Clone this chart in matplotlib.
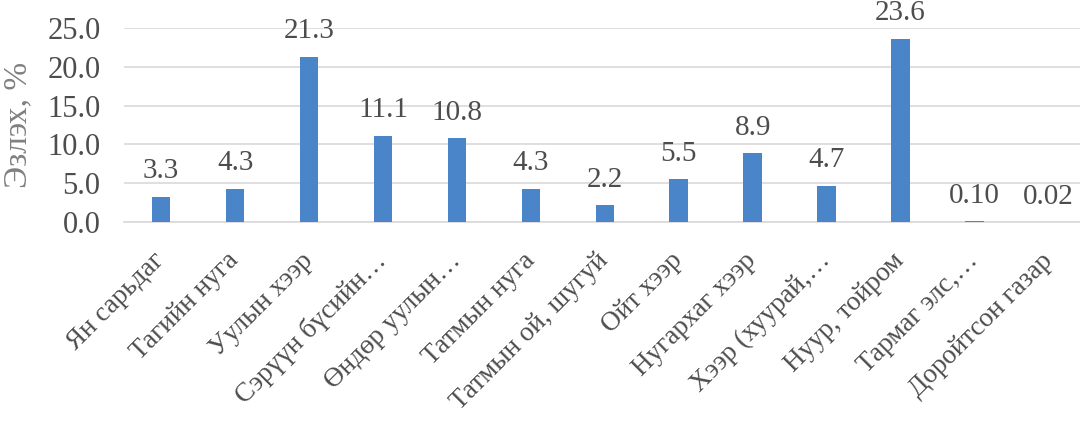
import matplotlib.pyplot as plt
import numpy as np

# land cover classes and their share, %
categories = ["Ян сарьдаг", "Тагийн нуга", "Уулын хээр", "Сэрүүн бүсийн…",
              "Өндөр уулын…", "Татмын нуга", "Татмын ой, шугуй", "Ойт хээр",
              "Нугархаг хээр", "Хээр (хуурай,…", "Нуур, тойром",
              "Тармаг элс,…", "Доройтсон газар"]
values = [3.3, 4.3, 21.3, 11.1, 10.8, 4.3, 2.2, 5.5, 8.9, 4.7, 23.6, 0.10, 0.02]
value_labels = ["3.3", "4.3", "21.3", "11.1", "10.8", "4.3", "2.2", "5.5",
                "8.9", "4.7", "23.6", "0.10", "0.02"]
yticks = [0, 5, 10, 15, 20, 25]

plt.rcParams['font.family'] = ['Liberation Serif', 'DejaVu Serif']
text_color = '#4d4d4d'

fig = plt.figure(figsize=(10.8, 4.24), dpi=100)
ax = fig.add_axes([0.115, 0.476, 0.89, 0.458])

x = np.arange(len(categories))
ax.bar(x, values, width=0.25, color='#4a84c9', zorder=3)

for xi, v, lab in zip(x, values, value_labels):
    ax.annotate(lab, (xi, v), xytext=(0, 9), textcoords='offset points',
                ha='center', va='bottom', fontsize=21, color=text_color)

ax.set_xlim(-0.5, len(categories) - 0.5)
ax.set_ylim(0, 25)
ax.set_yticks(yticks)
ax.set_yticklabels([f"{t:.1f}" for t in yticks], fontsize=22, color=text_color)
ax.yaxis.grid(True, color='#dcd8dc', linewidth=1.2, zorder=0)
ax.set_xticks(x)
ax.set_xticklabels(categories, rotation=45, ha='right', va='center',
                   rotation_mode='anchor', fontsize=19.5, color=text_color)
ax.tick_params(axis='both', length=0)
ax.tick_params(axis='x', pad=25)
ax.tick_params(axis='y', pad=17)

for side in ['top', 'right', 'left']:
    ax.spines[side].set_visible(False)
ax.spines['bottom'].set_color('#dcd8dc')
ax.spines['bottom'].set_linewidth(1.2)

ax.set_ylabel("Эзлэх, %", fontsize=24, color='#808080', labelpad=10)

fig.savefig("out.png", dpi=100)
